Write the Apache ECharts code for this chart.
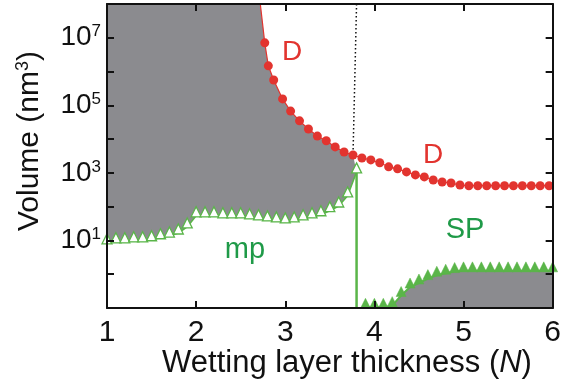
<!DOCTYPE html>
<html><head><meta charset="utf-8">
<script src="https://cdn.jsdelivr.net/npm/echarts@6/dist/echarts.min.js"></script>
<style>html,body{margin:0;padding:0;background:#fff}#c{width:564px;height:383px}</style>
</head><body><div id="c"></div><script>
// ---- data (log10 of volume in nm^3) ----
const xTicks = [1, 2, 3, 4, 5, 6];
const yLabelExponents = [1, 3, 5, 7];
const transitionN = 3.8;

const mpN = [1.0,1.1,1.2,1.3,1.4,1.5,1.6,1.7,1.8,1.9,2.0,2.1,2.2,2.3,2.4,2.5,2.6,2.7,2.8,2.9,3.0,3.1,3.2,3.3,3.4,3.5,3.6,3.7,3.8];
const mpLog = [0.93,0.96,0.96,0.99,0.99,1.02,1.08,1.13,1.22,1.40,1.73,1.73,1.73,1.70,1.70,1.70,1.67,1.64,1.61,1.58,1.55,1.58,1.64,1.70,1.76,1.88,2.02,2.32,3.03];

const dN = [2.72,2.77,2.81,2.87,2.97,3.06,3.16,3.26,3.36,3.46,3.56,3.66,3.76,3.86,3.96,4.06,4.16,4.26,4.36,4.46,4.56,4.66,4.76,4.86,4.96,5.06,5.16,5.26,5.36,5.46,5.56,5.66,5.76,5.86,5.96];
const dLog = [8.0,6.85,6.17,5.75,5.19,4.83,4.54,4.30,4.09,3.95,3.77,3.62,3.53,3.44,3.385,3.30,3.18,3.12,3.03,2.94,2.88,2.79,2.73,2.70,2.64,2.62,2.62,2.62,2.62,2.62,2.62,2.62,2.62,2.62,2.62];

const spN = [3.9,4.0,4.1,4.2,4.3,4.4,4.5,4.6,4.7,4.8,4.9,5.0,5.1,5.2,5.3,5.4,5.5,5.6,5.7,5.8,5.9,6.0];
const spLog = [-0.98,-0.98,-0.98,-0.93,-0.63,-0.38,-0.26,-0.13,-0.03,0.03,0.08,0.10,0.10,0.10,0.10,0.10,0.10,0.10,0.10,0.10,0.10,0.10];

// ---- style ----
const GRAY = '#8b8b8f';
const RED = '#e2342f';
const GREEN = '#5ab549';
const GREEN_TXT = '#1f9a48';
const FONT = 'Liberation Sans, Arial, sans-serif';
const Y_MIN = 0.1, Y_MAX = 1e8, X_MIN = 1, X_MAX = 6;

const toV = e => Math.pow(10, e);
const mpData = mpN.map((n, i) => [n, toV(mpLog[i])]);
const dData = dN.map((n, i) => i === 0 ? {value: [n, toV(dLog[i])], symbol: 'none'} : [n, toV(dLog[i])]);
const spData = spN.map((n, i) => [n, toV(spLog[i])]);

// last D point before the transition: end of the dotted line
let dAtT = [dN[1], toV(dLog[1])];
dN.forEach((n, i) => { if (n <= transitionN) dAtT = [n, toV(dLog[i])]; });

const chart = echarts.init(document.getElementById('c'), null, {renderer: 'canvas'});

function upperRegion(params, api) {
  const pts = [];
  mpData.forEach(p => pts.push(api.coord(p)));
  for (let i = dN.length - 1; i >= 0; i--) {
    if (dN[i] < transitionN) pts.push(api.coord([dN[i], toV(dLog[i])]));
  }
  pts.push(api.coord([X_MIN, Y_MAX]));
  return {type: 'polygon', shape: {points: pts}, style: {fill: GRAY}};
}
function spRegion(params, api) {
  const pts = [];
  spData.forEach(p => pts.push(api.coord([p[0], Math.max(p[1], Y_MIN)])));
  pts.push(api.coord([spN[spN.length - 1], Y_MIN]));
  pts.push(api.coord([spN[0], Y_MIN]));
  return {type: 'polygon', shape: {points: pts}, style: {fill: GRAY}};
}

const axisLineStyle = {color: '#111', width: 2};
const yFmt = v => {
  const e = Math.round(Math.log10(v));
  return yLabelExponents.includes(e) ? '{b|10}{s|' + e + '}' : '';
};

chart.setOption({
  animation: false,
  backgroundColor: '#fff',
  grid: {left: 107, right: 7, top: 4, bottom: 75, containLabel: false},
  xAxis: [
    {type: 'value', min: X_MIN, max: X_MAX, interval: 1, z: 10,
     axisLine: {lineStyle: axisLineStyle},
     axisTick: {inside: true, length: 7, lineStyle: {width: 2, color: '#111'}},
     axisLabel: {fontSize: 30, fontFamily: FONT, color: '#111', margin: 10,
       formatter: v => xTicks.includes(v) ? String(v) : ''},
     splitLine: {show: false}},
    {type: 'value', position: 'top', min: X_MIN, max: X_MAX, interval: 1, z: 10,
     axisLine: {lineStyle: axisLineStyle},
     axisTick: {inside: true, length: 7, lineStyle: {width: 2, color: '#111'}},
     axisLabel: {show: false}, splitLine: {show: false}}
  ],
  yAxis: [
    {type: 'log', logBase: 10, min: Y_MIN, max: Y_MAX, interval: 1, z: 10,
     axisLine: {lineStyle: axisLineStyle},
     axisTick: {inside: true, length: 7, lineStyle: {width: 2, color: '#111'}},
     axisLabel: {formatter: yFmt, margin: 6, color: '#111',
       rich: {b: {fontSize: 28, fontFamily: FONT, color: '#111'},
              s: {fontSize: 17, fontFamily: FONT, color: '#111', verticalAlign: 'top', padding: [0, 0, 12, 0]}}},
     splitLine: {show: false}, minorTick: {show: false}},
    {type: 'log', logBase: 10, position: 'right', min: Y_MIN, max: Y_MAX, interval: 1, z: 10,
     axisLine: {lineStyle: axisLineStyle},
     axisTick: {inside: true, length: 7, lineStyle: {width: 2, color: '#111'}},
     axisLabel: {show: false}, splitLine: {show: false}}
  ],
  series: [
    {type: 'custom', z: 1, data: [[X_MIN, 1]], renderItem: upperRegion, silent: true},
    {type: 'custom', z: 1, data: [[X_MIN, 1]], renderItem: spRegion, silent: true},
    {type: 'line', z: 3, symbol: 'none', data: [[transitionN, Y_MAX], dAtT],
     lineStyle: {color: '#111', width: 1.5, type: [1.5, 2.5]}},
    {type: 'line', z: 3, symbol: 'none', data: [mpData[mpData.length - 1], [transitionN, Y_MIN]],
     lineStyle: {color: GREEN, width: 2.5}},
    {type: 'line', z: 4, data: dData, symbol: 'circle', symbolSize: 9,
     itemStyle: {color: RED}, lineStyle: {color: RED, width: 1.2}},
    {type: 'line', z: 4, data: mpData, symbol: 'triangle', symbolSize: 10, symbolOffset: [0, -4],
     itemStyle: {color: '#fff', borderColor: GREEN, borderWidth: 1.3},
     lineStyle: {color: GREEN, width: 1.5}},
    {type: 'line', z: 4, data: spData, symbol: 'triangle', symbolSize: 10, symbolOffset: [0, -4],
     itemStyle: {color: GREEN, borderColor: GREEN, borderWidth: 0.5},
     lineStyle: {color: GREEN, width: 2}}
  ],
  graphic: [
    {type: 'text', x: 292, y: 52, z: 20, style: {text: 'D', fill: RED, font: '28px ' + FONT, textAlign: 'center', textVerticalAlign: 'middle'}},
    {type: 'text', x: 433, y: 155, z: 20, style: {text: 'D', fill: RED, font: '28px ' + FONT, textAlign: 'center', textVerticalAlign: 'middle'}},
    {type: 'text', x: 245, y: 250, z: 20, style: {text: 'mp', fill: GREEN_TXT, font: '29px ' + FONT, textAlign: 'center', textVerticalAlign: 'middle'}},
    {type: 'text', x: 465, y: 230, z: 20, style: {text: 'SP', fill: GREEN_TXT, font: '29px ' + FONT, textAlign: 'center', textVerticalAlign: 'middle'}},
    {type: 'text', x: 347, y: 363, z: 20, style: {text: 'Wetting layer thickness ({i|N})', fill: '#111', font: '31px ' + FONT,
      textAlign: 'center', textVerticalAlign: 'middle', rich: {i: {fontStyle: 'italic', fontSize: 31, fontFamily: FONT, fill: '#111'}}}},
    {type: 'text', x: 30, y: 141, z: 20, rotation: Math.PI / 2, style: {text: 'Volume (nm{s|3})', fill: '#111', font: '30px ' + FONT,
      textAlign: 'center', textVerticalAlign: 'middle', rich: {s: {fontSize: 18, fontFamily: FONT, fill: '#111', verticalAlign: 'top', padding: [0, 0, 14, 0]}}}}
  ]
});
</script></body></html>
